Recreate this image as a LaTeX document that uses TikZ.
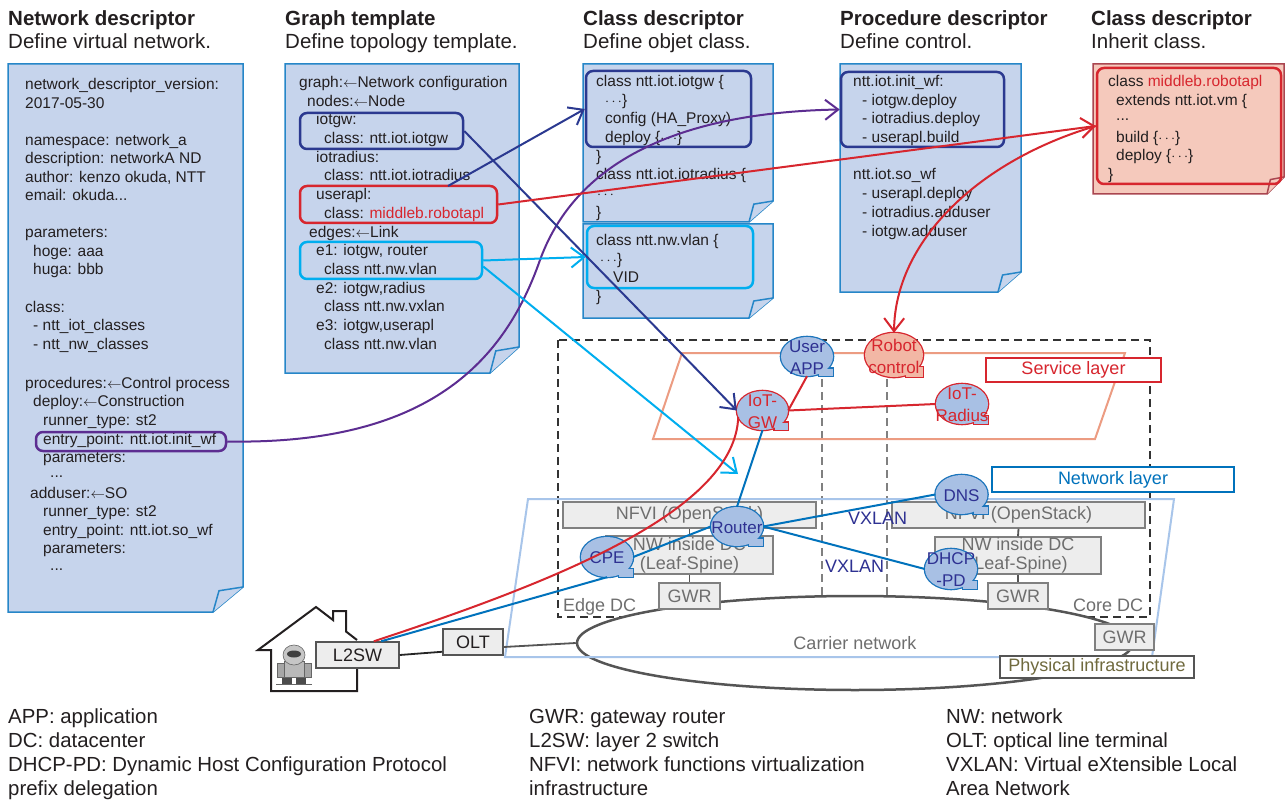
\documentclass[tikz,border=0pt]{standalone}
\usepackage{fontspec}
\setmainfont{Liberation Sans}
\usetikzlibrary{arrows.meta,shapes.geometric,calc}

\definecolor{ink}{RGB}{35,31,32}
\definecolor{docfill}{RGB}{198,212,236}
\definecolor{docline}{RGB}{38,134,200}
\definecolor{pinkfill}{RGB}{245,201,188}
\definecolor{pinkline}{RGB}{170,70,80}
\definecolor{navy}{RGB}{43,57,144}
\definecolor{redc}{RGB}{215,38,46}
\definecolor{cyanc}{RGB}{0,174,239}
\definecolor{purplec}{RGB}{92,45,145}
\definecolor{netblue}{RGB}{0,114,188}
\definecolor{bubfill}{RGB}{168,192,228}
\definecolor{bubline}{RGB}{28,117,188}
\definecolor{bubtext}{RGB}{46,49,146}
\definecolor{robfill}{RGB}{242,183,165}
\definecolor{svcplane}{RGB}{236,156,130}
\definecolor{phyplane}{RGB}{168,197,234}
\definecolor{boxfill}{RGB}{237,237,237}
\definecolor{boxline}{RGB}{128,128,128}
\definecolor{boxtext}{RGB}{110,110,110}
\definecolor{olive}{RGB}{112,106,62}
\definecolor{darkline}{RGB}{85,85,85}

\tikzset{
  doctext/.style={font=\fontsize{15.5}{18}\selectfont, text=ink, anchor=base west, inner sep=0pt},
  ttl/.style={font=\fontsize{20.5}{24}\selectfont\bfseries, text=ink, anchor=base west, inner sep=0pt},
  subttl/.style={font=\fontsize{20.5}{24}\selectfont, text=ink, anchor=base west, inner sep=0pt},
  legendtext/.style={font=\fontsize{20.4}{24}\selectfont, text=ink, anchor=base west, inner sep=0pt},
  sheet/.style={fill=docfill, draw=docline, line width=1.5pt},
  pinksheet/.style={fill=pinkfill, draw=pinkline, line width=1.5pt},
  hl/.style={rounded corners=7pt, line width=2.5pt, inner sep=0pt},
  conn/.style={line width=2pt},
  barb/.style={-{Straight Barb[length=13pt,width=20pt]}},
  graybox/.style={draw=boxline, fill=boxfill, line width=1.5pt, inner sep=0pt,
    font=\fontsize{18}{19}\selectfont, text=boxtext, align=center},
  accessbox/.style={draw=darkline, fill=boxfill, line width=1.5pt, inner sep=0pt,
    font=\fontsize{18}{19}\selectfont, text=ink},
  stub/.style={line width=1.8pt, draw=darkline},
  bubshape/.style={ellipse, inner sep=0pt},
  bubtxt/.style={inner sep=0pt, align=center, font=\fontsize{17}{22}\selectfont},
  layerlabel/.style={fill=white, line width=2.5pt, inner sep=0pt, font=\fontsize{18}{20}\selectfont},
  plainlabel/.style={inner sep=0pt, anchor=base west, font=\fontsize{18}{20}\selectfont},
  outerdash/.style={draw=black!80, line width=2pt, dash pattern=on 8pt off 5pt},
  innerdash/.style={draw=black!50, line width=2pt, dash pattern=on 8pt off 5pt},
}

% a sheet of paper with a folded lower right corner
\newcommand{\docsheet}[7]{%
  \draw[#7] (#1,#2) -- (#3,#2) -- (#3,{#4-#6}) -- ({#3-#5},#4) -- (#1,#4) -- cycle;
  \draw[#7] ({#3-#5},#4) -- ({#3-0.8*#5},{#4-0.85*#6}) -- (#3,{#4-#6});
}
% one line of descriptor code
\newcommand{\codeline}[4]{\node[doctext] (#1) at (#2,#3) {#4};}
\newcommand{\larr}{$\leftarrow$}
% speech bubble: name, cx, cy, rx, ry, fill, border, label, text colour
\newcommand{\bubble}[9]{%
  \draw[#7, line width=2.6pt] (#2,#3) ellipse [x radius=#4, y radius=#5];
  \draw[#7, line width=2.6pt] ({#2+12},{#3+12}) rectangle ({#2+#4},{#3+#5});
  \fill[#6] (#2,#3) ellipse [x radius=#4, y radius=#5];
  \fill[#6] ({#2+12},{#3+12}) rectangle ({#2+#4},{#3+#5});
  \node[bubshape, minimum width={2*#4}, minimum height={2*#5}] (#1) at (#2,#3) {};
  \node[bubtxt, text=#9] (#1-label) at (#2,{#3+1}) {#8};
}

\begin{document}
\begin{tikzpicture}[x=1pt,y=-1pt]
\useasboundingbox (0,0) rectangle (1287,802);
\fill[white] (0,0) rectangle (1287,802);

% ---------- headings ----------
\node[ttl] (h1) at (8,26) {Network descriptor};
\node[subttl] (s1) at (8,49) {Define virtual network.};
\node[ttl] (h2) at (285,26) {Graph template};
\node[subttl] (s2) at (285,49) {Define topology template.};
\node[ttl] (h3) at (583,26) {Class descriptor};
\node[subttl] (s3) at (583,49) {Define objet class.};
\node[ttl] (h4) at (840,26) {Procedure descriptor};
\node[subttl] (s4) at (840,49) {Define control.};
\node[ttl] (h5) at (1091,26) {Class descriptor};
\node[subttl] (s5) at (1091,49) {Inherit class.};

% ---------- sheets ----------
\docsheet{8}{64}{243}{612}{30}{25}{sheet}
\docsheet{285}{64}{519}{373}{29}{26}{sheet}
\docsheet{583}{64}{773}{222}{24}{21}{sheet}
\docsheet{583}{224}{773}{318}{24}{20}{sheet}
\docsheet{840}{64}{1021}{292}{23}{20}{sheet}
\docsheet{1093}{64}{1284}{194}{17}{17}{pinksheet}

% network descriptor
\codeline{nd0}{25}{90}{network\_descriptor\_version:}
\codeline{nd1}{25}{108.5}{2017-05-30}
\codeline{nd2}{25}{145.5}{namespace: network\_a}
\codeline{nd3}{25}{164}{description: networkA ND}
\codeline{nd4}{25}{182.5}{author: kenzo okuda, NTT}
\codeline{nd5}{25}{201}{email: okuda...}
\codeline{nd6}{25}{238}{parameters:}
\codeline{nd7}{33}{256.5}{hoge: aaa}
\codeline{nd8}{33}{275}{huga: bbb}
\codeline{nd9}{25}{312}{class:}
\codeline{nd10}{33}{330.5}{- ntt\_iot\_classes}
\codeline{nd11}{33}{349}{- ntt\_nw\_classes}
\codeline{nd12}{25}{388}{procedures:\larr Control process}
\codeline{nd13}{33}{406.5}{deploy:\larr Construction}
\codeline{nd14}{43}{425}{runner\_type: st2}
\codeline{nd15}{43}{444.5}{entry\_point: ntt.iot.init\_wf}
\codeline{nd16}{43}{462}{parameters:}
\codeline{nd17}{50}{477}{...}
\codeline{nd18}{30}{498}{adduser:\larr SO}
\codeline{nd19}{43}{516.5}{runner\_type: st2}
\codeline{nd20}{43}{535}{entry\_point: ntt.iot.so\_wf}
\codeline{nd21}{43}{553}{parameters:}
\codeline{nd22}{50}{570}{...}

% graph template
\codeline{gt0}{299}{87.5}{graph:\larr Network configuration}
\codeline{gt1}{307}{106.2}{nodes:\larr Node}
\codeline{gt2}{316}{124.9}{iotgw:}
\codeline{gt3}{324}{143.6}{class: ntt.iot.iotgw}
\codeline{gt4}{316}{162.3}{iotradius:}
\codeline{gt5}{324}{181}{class: ntt.iot.iotradius}
\codeline{gt6}{316}{199.7}{userapl:}
\codeline{gt7}{324}{218.4}{class: \textcolor{redc}{middleb.robotapl}}
\codeline{gt8}{309}{237.1}{edges:\larr Link}
\codeline{gt9}{316}{255.8}{e1: iotgw, router}
\codeline{gt10}{324}{274.5}{class ntt.nw.vlan}
\codeline{gt11}{316}{293.2}{e2: iotgw,radius}
\codeline{gt12}{324}{311.9}{class ntt.nw.vxlan}
\codeline{gt13}{316}{330.6}{e3: iotgw,userapl}
\codeline{gt14}{324}{349.3}{class ntt.nw.vlan}

% class descriptors
\codeline{cd0}{596}{86.5}{class ntt.iot.iotgw \{}
\codeline{cd1}{605}{105.2}{$\cdots$\}}
\codeline{cd2}{605}{123.9}{config (HA\_Proxy)}
\codeline{cd3}{605}{142.6}{deploy \{$\cdots$\}}
\codeline{cd4}{596}{161.3}{\}}
\codeline{cd5}{596}{180}{class ntt.iot.iotradius \{}
\codeline{cd6}{597}{198.7}{$\cdots$}
\codeline{cd7}{596}{217.4}{\}}
\codeline{cd8}{596}{245.5}{class ntt.nw.vlan \{}
\codeline{cd9}{600}{264.5}{$\cdots$\}}
\codeline{cd10}{613}{282.5}{VID}
\codeline{cd11}{596}{301.5}{\}}

% procedure descriptor
\codeline{pd0}{853}{86.5}{ntt.iot.init\_wf:}
\codeline{pd1}{862}{105.2}{- iotgw.deploy}
\codeline{pd2}{862}{123.9}{- iotradius.deploy}
\codeline{pd3}{862}{142.6}{- userapl.build}
\codeline{pd4}{853}{180}{ntt.iot.so\_wf}
\codeline{pd5}{862}{198.7}{- userapl.deploy}
\codeline{pd6}{862}{217.4}{- iotradius.adduser}
\codeline{pd7}{862}{236.1}{- iotgw.adduser}

% inherited class
\codeline{ih0}{1108}{86.5}{class \textcolor{redc}{middleb.robotapl}}
\codeline{ih1}{1116}{105.1}{extends ntt.iot.vm \{}
\codeline{ih2}{1116}{121}{...}
\codeline{ih3}{1116}{142.3}{build \{$\cdots$\}}
\codeline{ih4}{1116}{160.9}{deploy \{$\cdots$\}}
\codeline{ih5}{1108}{179.5}{\}}

% highlighted entries
\node[hl, draw=purplec, minimum width=190, minimum height=19] (nd-entry) at (131,441.5) {};
\node[hl, draw=navy, minimum width=163, minimum height=36] (gt-iotgw) at (381.5,131) {};
\node[hl, draw=redc, minimum width=197, minimum height=37] (gt-userapl) at (398.5,204.5) {};
\node[hl, draw=cyanc, minimum width=182, minimum height=37] (gt-e1) at (391,260.5) {};
\node[hl, draw=navy, minimum width=165, minimum height=76] (cd-gw) at (668.5,109) {};
\node[hl, draw=cyanc, minimum width=166, minimum height=62] (cd-vlan) at (670,257) {};
\node[hl, draw=navy, minimum width=163, minimum height=75] (pd-init) at (922.5,109.5) {};
\node[hl, draw=redc, minimum width=184, minimum height=116] (ih-box) at (1189,126) {};

% ---------- data centres and layers ----------
\draw[outerdash] (558,340) rectangle (1150,617);
\draw[innerdash] (822,340) -- (822,617);
\draw[innerdash] (887,340) -- (887,617);
\draw[svcplane, line width=2pt] (682,353) -- (1125,353) -- (1095,439) -- (653,439) -- cycle;

\node[ellipse, draw=darkline, line width=2.5pt, fill=white, minimum width=556, minimum height=94,
  inner sep=0pt, font=\fontsize{18}{20}\selectfont, text=boxtext] (carrier) at (855,643) {Carrier network};
\draw[phyplane, line width=2pt] (528,499) -- (1174,499) -- (1152,657) -- (505,657) -- cycle;

% edge DC stack
\node[graybox, minimum width=253, minimum height=26] (nfviE) at (689.5,515) {NFVI (OpenStack)};
\node[graybox, minimum width=167, minimum height=38] (nwE) at (689.5,555) {NW inside DC\\(Leaf-Spine)};
\node[graybox, minimum width=61, minimum height=26] (gwrE) at (689.5,596) {GWR};
\draw[stub] (nfviE.south) -- (nwE.north);
\draw[stub] (nwE.south) -- (gwrE.north);
% core DC stack
\node[graybox, minimum width=253, minimum height=26] (nfviC) at (1018.5,515) {NFVI (OpenStack)};
\node[graybox, minimum width=166, minimum height=37] (nwC) at (1018,555.5) {NW inside DC\\(Leaf-Spine)};
\node[graybox, minimum width=60, minimum height=26] (gwrC) at (1018,596) {GWR};
\draw[stub] (nfviC.south) -- (nwC.north);
\draw[stub] (nwC.south) -- (gwrC.north);
\node[graybox, minimum width=59, minimum height=26] (gwrR) at (1124.5,637) {GWR};

\node[plainlabel, text=boxtext] (edgedc) at (563,611.5) {Edge DC};
\node[plainlabel, text=boxtext] (coredc) at (1073,611.5) {Core DC};

% home
\draw[line width=2pt, ink, line join=miter] (357,668) -- (357,691) -- (271,691) -- (271,650) -- (258,650)
  -- (316,607) -- (333,620) -- (333,611) -- (346,611) -- (346,631.5) -- (357,640);
% robot
\fill[black!70] (282,674) rectangle (292,684);
\fill[black!70] (296,674) rectangle (306,684);
\fill[gray!70, draw=black!60, line width=0.6pt] (277,663) rectangle (284,677);
\fill[gray!70, draw=black!60, line width=0.6pt] (304,663) rectangle (311,677);
\fill[gray!55, draw=black!60, line width=0.6pt] (284,661) rectangle (304,677);
\fill[gray!45, draw=black!60, line width=0.6pt] (294,655) ellipse [x radius=11, y radius=10];
\fill[black!75] (294,654) ellipse [x radius=7, y radius=3.5];
\draw[black!60, line width=1pt] (276,684) -- (312,684);

\node[accessbox, minimum width=83, minimum height=26] (l2sw) at (357.5,655) {L2SW};
\node[accessbox, minimum width=60, minimum height=26] (olt) at (473,642) {OLT};
\draw[line width=1.8pt, black!85] (l2sw.east) -- ($(olt.south west)+(0,-4)$);
\draw[line width=1.8pt, darkline] ($(olt.east)+(0,5)$) -- (carrier.west);

% ---------- functions ----------
\bubble{userapp}{807}{356.5}{26}{19.5}{bubfill}{bubline}{User\\APP}{bubtext}
\bubble{robotctl}{894}{355}{29}{22}{robfill}{redc}{Robot\\control}{redc}
\bubble{gw}{762.5}{410.5}{25.5}{19.5}{bubfill}{redc}{IoT-\\GW}{redc}
\bubble{radius}{962}{404}{26}{20}{bubfill}{redc}{IoT-\\Radius}{redc}
\bubble{dns}{961.5}{494.5}{26}{19.5}{bubfill}{bubline}{DNS}{bubtext}
\bubble{router}{737}{526.5}{26}{19.5}{bubfill}{bubline}{Router}{bubtext}
\bubble{cpe}{607}{557}{26}{20}{bubfill}{bubline}{CPE}{bubtext}
\bubble{dhcp}{951}{569}{26}{20}{bubfill}{bubline}{DHCP\\-PD}{bubtext}

% ---------- layer labels ----------
\node[layerlabel, draw=redc, text=redc, minimum width=175, minimum height=24] (svc) at (1073.5,370) {Service layer};
\node[layerlabel, draw=netblue, text=netblue, minimum width=242, minimum height=25] (netl) at (1113,479.5) {Network layer};
\node[layerlabel, draw=darkline, line width=1.3pt, text=olive, minimum width=194, minimum height=22] (phys) at (1097,667) {Physical infrastructure};
\node[plainlabel, text=bubtext] (vx1) at (848,524.5) {VXLAN};
\node[plainlabel, text=bubtext] (vx2) at (825,572.5) {VXLAN};

% ---------- connectors ----------
\coordinate (radfrom) at (448,186);
\coordinate (vlantip) at (738,474);
\draw[conn, purplec, barb] (nd-entry.east) .. controls (430,445) and (505,360) .. (540,260)
  .. controls (580,150) and (700,112) .. (pd-init.west);
\draw[conn, navy, barb] (gt-iotgw.east) -- (gw.west);
\draw[conn, navy, barb] (radfrom) -- (cd-gw.west);
\draw[conn, redc, barb] (gt-userapl.east) -- (ih-box.west);
\draw[conn, redc, barb] (ih-box.west) .. controls (980,160) and (895,240) .. (robotctl.north);
\draw[conn, cyanc, barb] (gt-e1.east) -- (cd-vlan.west);
\draw[conn, cyanc, barb] ($(gt-e1.east)+(0,6)$) -- (vlantip);

\draw[conn, redc] (gw.east) -- (radius.west);
\draw[conn, redc] (gw.east) -- (userapp.south);
\draw[conn, netblue] (gw.south) -- (router.north);
\draw[conn, netblue] (router.east) -- (dns.west);
\draw[conn, netblue] (router.east) -- (dhcp.west);
\draw[conn, netblue] (router.west) -- (cpe.east);
\draw[conn, netblue] (cpe.south) -- (l2sw.30);
\draw[conn, redc] (gw.195) .. controls (735,510) and (560,580) .. (l2sw.40);

% ---------- legend ----------
\node[legendtext] (lg1) at (8,723) {APP: application};
\node[legendtext] (lg2) at (8,747) {DC: datacenter};
\node[legendtext] (lg3) at (8,771) {DHCP-PD: Dynamic Host Configuration Protocol};
\node[legendtext] (lg4) at (8,795) {prefix delegation};
\node[legendtext] (lg5) at (529,723) {GWR: gateway router};
\node[legendtext] (lg6) at (529,747) {L2SW: layer 2 switch};
\node[legendtext] (lg7) at (529,771) {NFVI: network functions virtualization};
\node[legendtext] (lg8) at (529,795) {infrastructure};
\node[legendtext] (lg9) at (946,723) {NW: network};
\node[legendtext] (lg10) at (946,747) {OLT: optical line terminal};
\node[legendtext] (lg11) at (946,771) {VXLAN: Virtual eXtensible Local};
\node[legendtext] (lg12) at (946,795) {Area Network};
\end{tikzpicture}
\end{document}
